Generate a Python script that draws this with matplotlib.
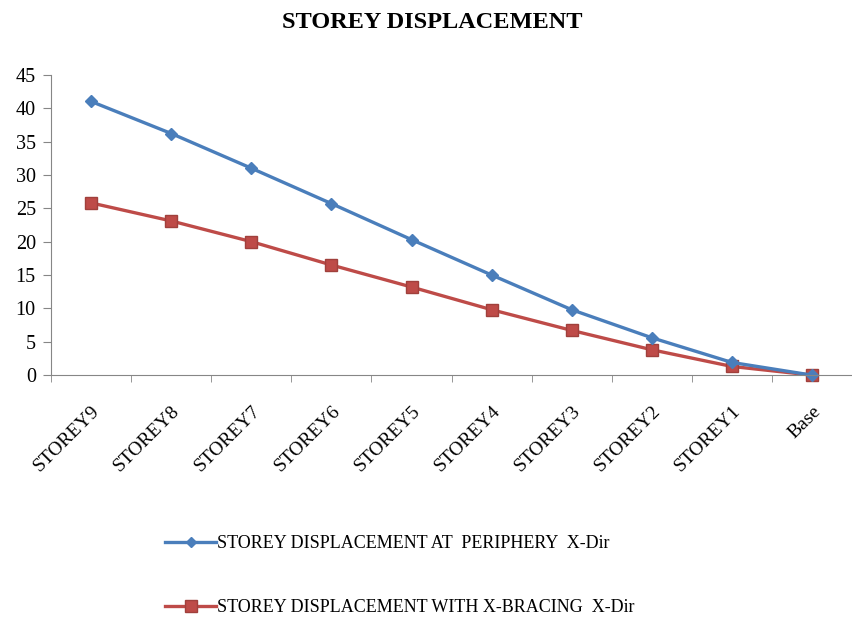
import matplotlib
matplotlib.use("Agg")
import matplotlib.pyplot as plt

plt.rcParams['font.family'] = ['Liberation Serif', 'DejaVu Serif']

# data
storeys = ['STOREY9', 'STOREY8', 'STOREY7', 'STOREY6', 'STOREY5',
           'STOREY4', 'STOREY3', 'STOREY2', 'STOREY1', 'Base']
periphery = [41.0, 36.2, 31.0, 25.7, 20.3, 15.0, 9.8, 5.6, 1.9, 0.0]
bracing = [25.8, 23.1, 20.0, 16.5, 13.2, 9.8, 6.7, 3.8, 1.3, 0.0]

blue = '#4A7EBB'
red = '#BE4B48'

fig = plt.figure(figsize=(8.52, 6.18), dpi=100)
ax = fig.add_axes([0.06, 0.393, 0.94, 0.486])

x = range(len(storeys))
l2, = ax.plot(x, bracing, color=red, lw=2.4, marker='s', ms=9,
              markeredgecolor='#A0403C', label='STOREY DISPLACEMENT WITH X-BRACING  X-Dir')
l1, = ax.plot(x, periphery, color=blue, lw=2.4, marker='D', ms=6,
              label='STOREY DISPLACEMENT AT  PERIPHERY  X-Dir')

ax.set_xlim(-0.5, 9.33)
ax.set_ylim(0, 45)
ax.set_yticks(range(0, 46, 5))
ax.set_xticks(list(x))
ax.set_xticklabels(storeys, rotation=45, ha='right', rotation_mode='anchor', fontsize=14)
ax.set_xticks([i + 0.5 for i in range(-1, 10)], minor=True)
ax.tick_params(axis='x', which='major', length=0, pad=20)
ax.tick_params(axis='x', which='minor', length=5, color='#868686', direction='out')
ax.tick_params(axis='y', labelsize=14.5, length=6, color='#868686', pad=5)
for s in ['top', 'right']:
    ax.spines[s].set_visible(False)
for s in ['left', 'bottom']:
    ax.spines[s].set_color('#868686')

fig.text(0.507, 0.963, 'STOREY DISPLACEMENT', ha='center', va='center',
         fontsize=17.5, fontweight='bold')

fig.legend([l1, l2], [l1.get_label(), l2.get_label()], loc='upper left',
           bbox_to_anchor=(0.175, 0.16), bbox_transform=fig.transFigure,
           frameon=False, fontsize=13, labelspacing=2.6, handlelength=2.8,
           handletextpad=0.05, markerscale=0.9)
l1.set_clip_on(False)
l2.set_clip_on(False)

fig.savefig('out.png', dpi=100)
